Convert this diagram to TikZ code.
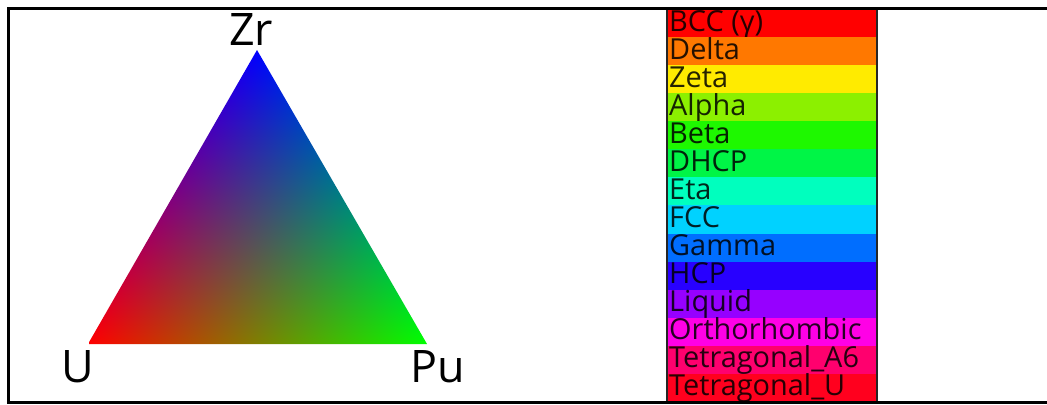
\documentclass[tikz,border=0pt]{standalone}
\usepackage{fontspec}
\setmainfont{Open Sans}
\usetikzlibrary{shadings}
\pgfdeclarefunctionalshading{ternary}{\pgfpoint{0bp}{0bp}}{\pgfpoint{340bp}{295bp}}{}{
  294 div exch 1 index 169 mul sub 339 div 2 copy add 1 exch sub exch 3 2 roll
}
\definecolor{cBCC}{RGB}{255,0,0}
\definecolor{cDelta}{RGB}{255,120,0}
\definecolor{cZeta}{RGB}{255,235,0}
\definecolor{cAlpha}{RGB}{140,240,0}
\definecolor{cBeta}{RGB}{30,248,0}
\definecolor{cDHCP}{RGB}{0,245,70}
\definecolor{cEta}{RGB}{0,255,190}
\definecolor{cFCC}{RGB}{0,210,255}
\definecolor{cGamma}{RGB}{0,110,255}
\definecolor{cHCP}{RGB}{40,0,255}
\definecolor{cLiquid}{RGB}{150,0,255}
\definecolor{cOrtho}{RGB}{255,0,230}
\definecolor{cTetA}{RGB}{255,0,110}
\definecolor{cTetU}{RGB}{255,0,30}
\tikzset{
  frame/.style={draw=black, line width=3bp},
  legframe/.style={draw=black!85, line width=2bp},
  vlabel/.style={inner sep=0pt, font=\fontsize{45}{45}\selectfont, text=black},
  legtext/.style={inner sep=0pt, anchor=base west, font=\fontsize{29}{29}\selectfont, text=black, text opacity=0.85},
}
\begin{document}
\begin{tikzpicture}[x=1bp, y=-1bp]
\useasboundingbox (0,0) rectangle (1047,404);
\fill[white] (0,0) rectangle (1047,404);
% ternary triangle
\coordinate (U) at (88,344);
\coordinate (Pu) at (427,344);
\coordinate (Zr) at (257,50);
\begin{scope}
  \clip (U) -- (Pu) -- (Zr) -- cycle;
  \node[inner sep=0pt, outer sep=0pt, anchor=south west] (shade) at (U) {\pgfuseshading{ternary}};
\end{scope}
\node[vlabel, anchor=base] (lZr) at (251,45) {Zr};
\node[vlabel, anchor=base] (lU) at (78,382) {U};
\node[vlabel, anchor=base] (lPu) at (438,382) {Pu};
% legend
\foreach \name/\col [count=\i from 0] in {{BCC (γ)}/cBCC, Delta/cDelta, Zeta/cZeta, Alpha/cAlpha, Beta/cBeta, DHCP/cDHCP, Eta/cEta, FCC/cFCC, Gamma/cGamma, HCP/cHCP, Liquid/cLiquid, Orthorhombic/cOrtho, Tetragonal\_A6/cTetA, Tetragonal\_U/cTetU}{
  \fill[\col] (667,{9+28.07*\i}) rectangle (877,{9+28.07*(\i+1)});
  \node[legtext] (leg\i) at (669,{9+28.07*\i+22}) {\name};
}
\draw[legframe] (667,9) rectangle (877,402);
% outer frame
\draw[frame] (8,8) rectangle (1070,402);
\end{tikzpicture}
\end{document}
